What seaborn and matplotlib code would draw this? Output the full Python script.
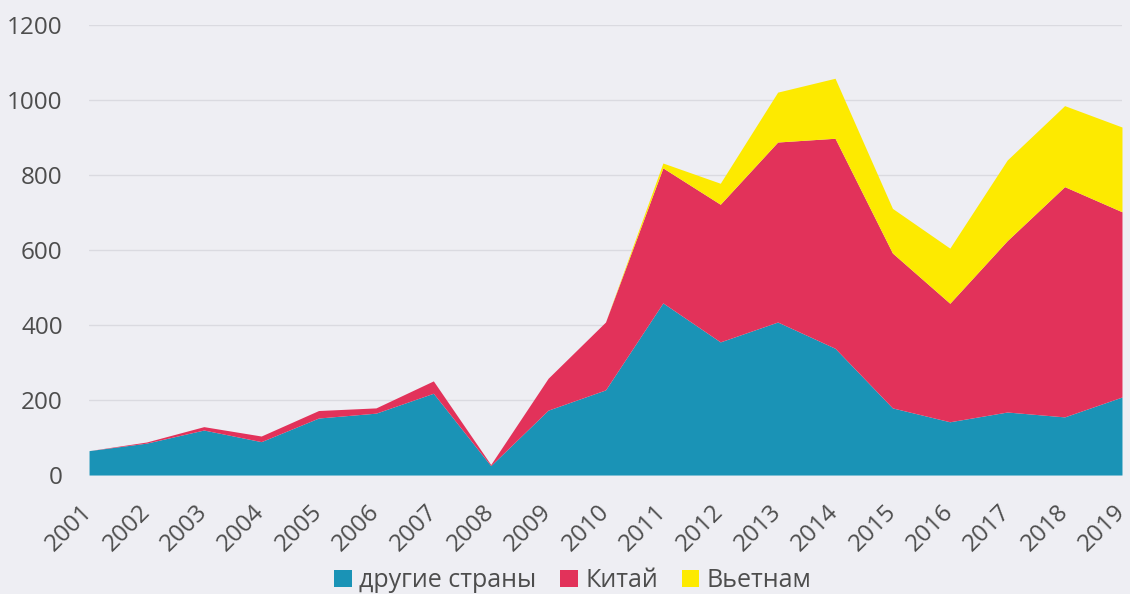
import numpy as np
import seaborn as sns
import matplotlib.pyplot as plt
from matplotlib.patches import Patch

# Years and stacked series
years = list(range(2001, 2020))
other = [65, 85, 120, 89, 152, 165, 218, 25, 173, 227, 459, 355, 408, 338, 179, 142, 168, 155, 208]
china = [0, 3, 9, 15, 20, 14, 33, 3, 85, 181, 360, 367, 480, 560, 413, 316, 457, 614, 494]
vietnam = [0, 0, 0, 0, 0, 0, 0, 0, 0, 0, 13, 56, 133, 160, 119, 147, 215, 216, 226]

labels = ["другие страны", "Китай", "Вьетнам"]
colors = ["#1a93b6", "#e2325a", "#fdea00"]
y_ticks = [0, 200, 400, 600, 800, 1000, 1200]

sns.set_style("white")
plt.rcParams["font.family"] = ["Open Sans", "DejaVu Sans"]

bg = "#eeeef3"
fig = plt.figure(figsize=(11.3, 5.94), dpi=100, facecolor=bg)
ax = fig.add_axes([0.0788, 0.2003, 0.9141, 0.7576], facecolor=bg)

for y in y_ticks[1:]:
    ax.axhline(y, color="#dadae0", lw=1.0, zorder=0)

ax.stackplot(years, other, china, vietnam, colors=colors, labels=labels,
             linewidth=0, zorder=2)

ax.set_xlim(2001, 2019)
ax.set_ylim(0, 1200)
ax.set_yticks(y_ticks)
ax.set_xticks(years)
ax.set_xticklabels([str(y) for y in years], rotation=45, ha="right",
                   va="center", rotation_mode="anchor")
ax.tick_params(axis="both", length=0, labelsize=17.5, labelcolor="#4d4d4d")
ax.tick_params(axis="y", pad=19)
ax.tick_params(axis="x", pad=24)
for s in ax.spines.values():
    s.set_visible(False)

handles = [Patch(facecolor=c, edgecolor="none") for c in colors]
fig.legend(handles, labels, loc="center", bbox_to_anchor=(0.507, 0.022),
           ncol=3, frameon=False, fontsize=18, labelcolor="#4d4d4d",
           handlelength=0.7, handleheight=0.7, handletextpad=0.3,
           columnspacing=0.95)

fig.savefig("out.png", dpi=100, facecolor=bg)
